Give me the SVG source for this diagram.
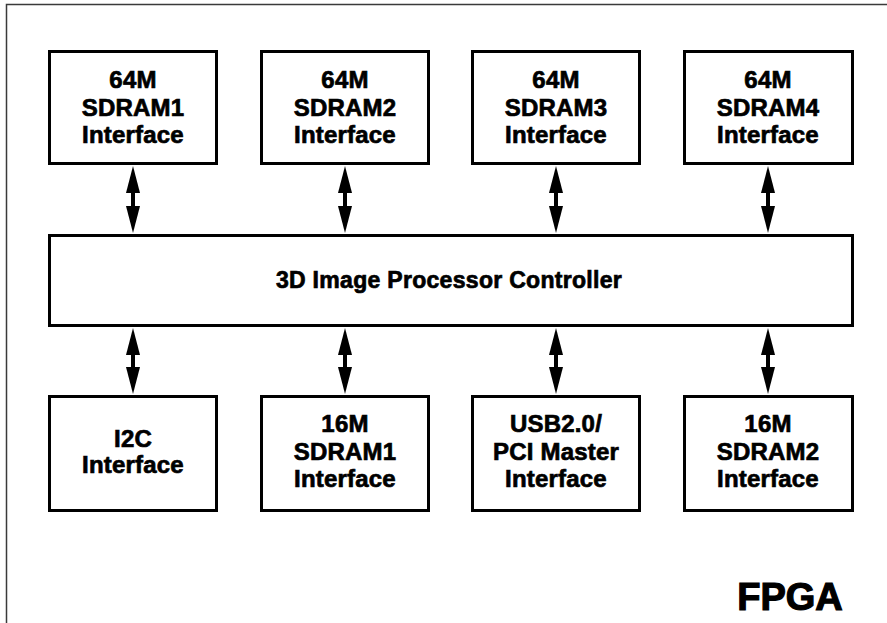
<svg xmlns="http://www.w3.org/2000/svg" width="887" height="623" viewBox="0 0 887 623">
<style>
.frame{fill:none;stroke:#3a3a3a;stroke-width:1.5}
.box{fill:#fff;stroke:#000;stroke-width:3}
.t{font-family:"Liberation Sans",Arial,sans-serif;font-weight:bold;font-size:24px;letter-spacing:0.2px;text-anchor:middle;fill:#000;stroke:#000;stroke-width:0.7}
.tc{font-size:23px;letter-spacing:0.3px}
.big{font-size:38px;letter-spacing:0px;stroke-width:1.2}
.arr{stroke:#000;stroke-width:4;fill:none;marker-start:url(#head);marker-end:url(#head)}
</style>
<defs>
<marker id="head" viewBox="0 0 27 14" refX="7" refY="7" markerWidth="27" markerHeight="14" markerUnits="userSpaceOnUse" orient="auto-start-reverse">
<path d="M0,0 L27,7 L0,14 Z" fill="#000"/>
</marker>
</defs>
<rect class="frame" x="6.5" y="4.5" width="900" height="700"/>
<g id="connectors">
<line class="arr" x1="133" y1="186" x2="133" y2="213"/>
<line class="arr" x1="345" y1="186" x2="345" y2="213"/>
<line class="arr" x1="556" y1="186" x2="556" y2="213"/>
<line class="arr" x1="768" y1="186" x2="768" y2="213"/>
<line class="arr" x1="133" y1="348" x2="133" y2="374"/>
<line class="arr" x1="345" y1="348" x2="345" y2="374"/>
<line class="arr" x1="556" y1="348" x2="556" y2="374"/>
<line class="arr" x1="768" y1="348" x2="768" y2="374"/>
</g>
<g id="sdram64_1">
<rect class="box" x="49.5" y="51.5" width="167" height="112"/>
<text class="t" x="133" y="88">64M</text>
<text class="t" x="133" y="116">SDRAM1</text>
<text class="t" x="133" y="143">Interface</text>
</g>
<g id="sdram64_2">
<rect class="box" x="261.5" y="51.5" width="167" height="112"/>
<text class="t" x="345" y="88">64M</text>
<text class="t" x="345" y="116">SDRAM2</text>
<text class="t" x="345" y="143">Interface</text>
</g>
<g id="sdram64_3">
<rect class="box" x="472.5" y="51.5" width="167" height="112"/>
<text class="t" x="556" y="88">64M</text>
<text class="t" x="556" y="116">SDRAM3</text>
<text class="t" x="556" y="143">Interface</text>
</g>
<g id="sdram64_4">
<rect class="box" x="684.5" y="51.5" width="168" height="112"/>
<text class="t" x="768" y="88">64M</text>
<text class="t" x="768" y="116">SDRAM4</text>
<text class="t" x="768" y="143">Interface</text>
</g>
<g id="controller">
<rect class="box" x="49.5" y="235.5" width="803" height="90"/>
<text class="t tc" x="449" y="288">3D Image Processor Controller</text>
</g>
<g id="i2c">
<rect class="box" x="49.5" y="396.5" width="167" height="114"/>
<text class="t" x="133" y="447">I2C</text>
<text class="t" x="133" y="473">Interface</text>
</g>
<g id="sdram16_1">
<rect class="box" x="261.5" y="396.5" width="167" height="114"/>
<text class="t" x="345" y="432">16M</text>
<text class="t" x="345" y="460">SDRAM1</text>
<text class="t" x="345" y="487">Interface</text>
</g>
<g id="usb_pci">
<rect class="box" x="472.5" y="396.5" width="167" height="114"/>
<text class="t" x="556" y="432">USB2.0/</text>
<text class="t" x="556" y="460">PCI Master</text>
<text class="t" x="556" y="487">Interface</text>
</g>
<g id="sdram16_2">
<rect class="box" x="684.5" y="396.5" width="168" height="114"/>
<text class="t" x="768" y="432">16M</text>
<text class="t" x="768" y="460">SDRAM2</text>
<text class="t" x="768" y="487">Interface</text>
</g>
<g id="fpga_label">
<text class="t big" x="790" y="610">FPGA</text>
</g>
</svg>
